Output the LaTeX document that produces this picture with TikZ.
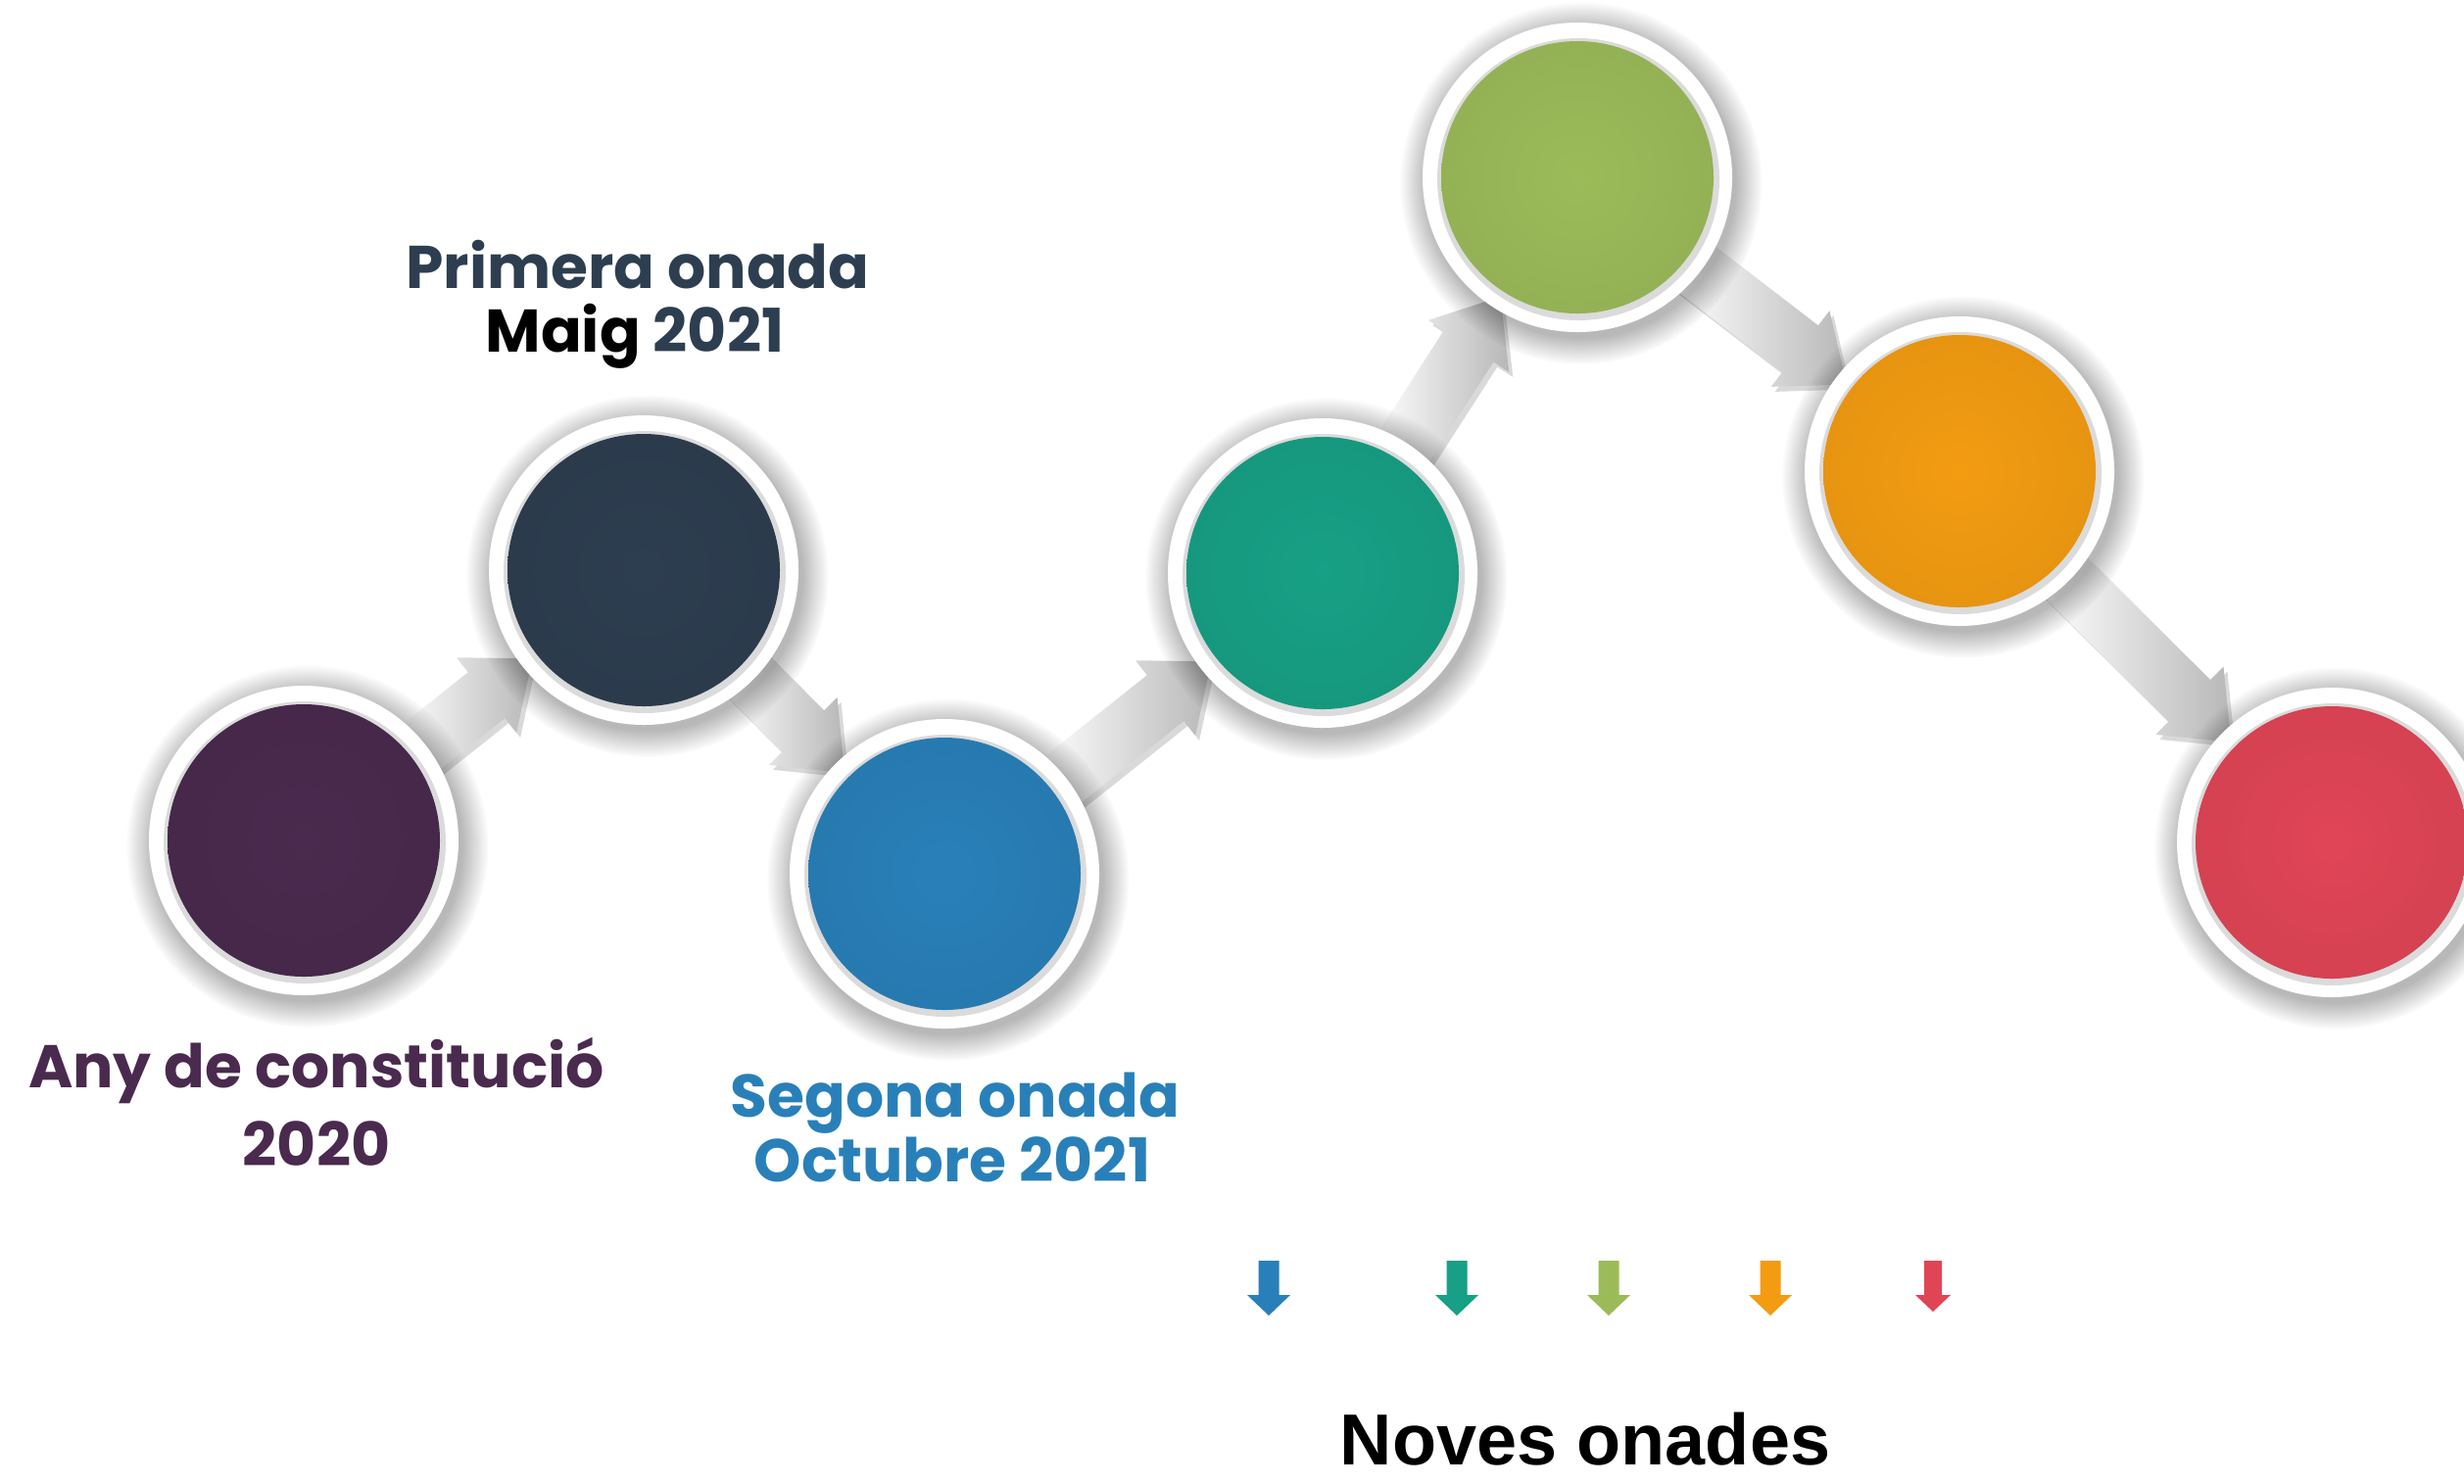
\documentclass[tikz,border=0pt]{standalone}
\usepackage{fontspec}
\usepackage{tikz}
\usetikzlibrary{calc,shadows,fadings}

\newfontfamily\gothic{Poppins}
\newfontfamily\arialfont{Liberation Sans}

\definecolor{wavepurple}{HTML}{4A2A4E}
\definecolor{wavenavy}{HTML}{2D3E50}
\definecolor{waveblue}{HTML}{2980B9}
\definecolor{waveteal}{HTML}{17A085}
\definecolor{wavegreen}{HTML}{9BBB59}
\definecolor{waveorange}{HTML}{F39C12}
\definecolor{wavered}{HTML}{E04556}

\tikzset{
  ring/.style={circle, fill=white, minimum size=3.16cm, inner sep=0pt,
    circular glow={fill=black, opacity=0.28, shadow scale=1.17,
      shadow xshift=0.03cm, shadow yshift=-0.05cm}},
  rim/.style={circle, fill=black!14, minimum size=2.88cm, inner sep=0pt},
  disc/.style={circle, inner color=#1, outer color=#1!95!black,
    minimum size=2.78cm, inner sep=0pt},
  flow/.style={left color=white, right color=black!28,
    drop shadow={fill=black, opacity=0.15, shadow xshift=0.04cm, shadow yshift=-0.05cm}},
  wavetext/.style={font=\gothic\bfseries\fontsize{17.5}{21}\selectfont, anchor=base},
  tick/.style={fill=#1}
}

% block arrow from ring #1 to ring #2
\newcommand\flowarrow[2]{%
  \path[flow]
    ($(#1)!1.45cm!(#2)!0.30cm!90:(#2)$) --
    ($(#2)!2.05cm!(#1)!0.30cm!-90:(#1)$) --
    ($(#2)!2.05cm!(#1)!0.49cm!-90:(#1)$) --
    ($(#2)!1.45cm!(#1)$) --
    ($(#2)!2.05cm!(#1)!0.49cm!90:(#1)$) --
    ($(#2)!2.05cm!(#1)!0.30cm!90:(#1)$) --
    ($(#1)!1.45cm!(#2)!0.30cm!-90:(#2)$) -- cycle;}

\begin{document}
\begin{tikzpicture}
  \useasboundingbox (0,0) rectangle (25.15,-15.14);

  \coordinate (p1) at (3.10,-8.58);
  \coordinate (p2) at (6.57,-5.82);
  \coordinate (p3) at (9.64,-8.92);
  \coordinate (p4) at (13.50,-5.85);
  \coordinate (p5) at (16.10,-1.81);
  \coordinate (p6) at (20.00,-4.81);
  \coordinate (p7) at (23.80,-8.60);

  \foreach \a/\b in {p1/p2,p2/p3,p3/p4,p4/p5,p5/p6,p6/p7}
    \flowarrow{\a}{\b};

  \foreach \p/\c in {p1/wavepurple,p2/wavenavy,p3/waveblue,p4/waveteal,
                     p5/wavegreen,p6/waveorange,p7/wavered} {
    \node[ring] (r\p) at (\p) {};
    \node[rim] at ($(\p)+(0.01,-0.02)$) {};
    \node[disc=\c] (d\p) at (\p) {};
  }

  \node[wavetext, text=wavenavy] (first) at (6.51,-2.94) {Primera onada};
  \node[wavetext, text=wavenavy] (firstdate) at (6.48,-3.59) {\textcolor{black}{Maig} 2021};

  \node[wavetext, text=wavepurple] (start) at (3.23,-11.10) {Any de constitució};
  \node[wavetext, text=wavepurple] (startdate) at (3.23,-11.90) {2020};

  \node[wavetext, text=waveblue] (second) at (9.75,-11.40) {Segona onada};
  \node[wavetext, text=waveblue] (seconddate) at (9.72,-12.06) {Octubre 2021};

  \foreach \x/\c in {12.95/waveblue,14.87/waveteal,16.42/wavegreen,18.07/waveorange} {
    \fill[tick=\c] (\x-0.105,-12.87) -- (\x+0.105,-12.87) -- (\x+0.105,-13.22)
      -- (\x+0.22,-13.22) -- (\x,-13.43) -- (\x-0.22,-13.22) -- (\x-0.105,-13.22) -- cycle;
  }
  \fill[tick=wavered] (19.64,-12.87) -- (19.82,-12.87) -- (19.82,-13.22)
    -- (19.91,-13.22) -- (19.73,-13.39) -- (19.55,-13.22) -- (19.64,-13.22) -- cycle;

  \node[font=\arialfont\bfseries\fontsize{21}{25}\selectfont, anchor=base,
    inner sep=0pt, text depth=0pt] (later) at (16.18,-14.95) {Noves onades};
\end{tikzpicture}
\end{document}
